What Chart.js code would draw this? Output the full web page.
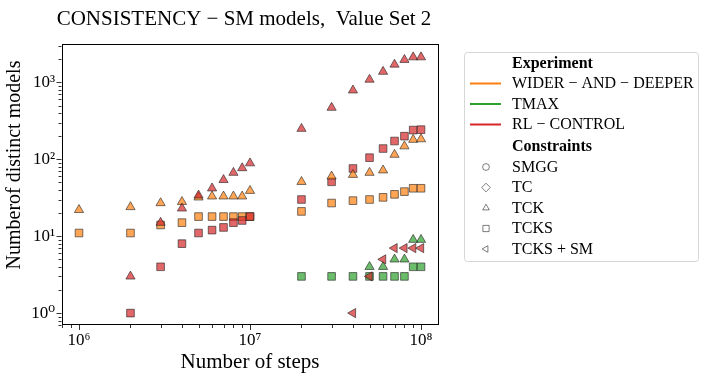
<!DOCTYPE html>
<html>
<head>
<meta charset="utf-8">
<script src="https://cdn.jsdelivr.net/npm/chart.js@4"></script>
<style>
  html, body { margin: 0; padding: 0; background: #fff; }
</style>
</head>
<body>
<canvas id="chart" width="706" height="380"></canvas>
<script>
// ======= DATA =======
const steps = [1e6, 2e6, 3e6, 4e6, 5e6, 6e6, 7e6, 8e6, 9e6, 1e7,
               2e7, 3e7, 4e7, 5e7, 6e7, 7e7, 8e7, 9e7, 1e8];

const widerTCK  = [22, 24, 27, 28, 32, 33, 33, 33, 33, 39, 51, 60, 63, 67, 72, 115, 148, 180, 183];
const widerTCKS = [11, 11, 14, 15, 18, 18, 18, 18, 18, 18, 21, 27, 29, 30, 32, 35, 38, 42, 42];

const tmaxTCK  = [null, null, null, null, null, null, null, null, null, null,
                  null, null, null, 4, 4, 5, 5, 9, 9];
const tmaxTCKS = [null, null, null, null, null, null, null, null, null, null,
                  3, 3, 3, 3, 3, 3, 3, 4, 4];

const rlTCK    = [null, 3, 15, 23, 34, 42, 54, 67, 77, 89, 250, 470, 790, 1090, 1380, 1710, 1970, 2130, 2130];
const rlTCKS   = [null, 1, 4, 8, 11, 12, 13, 15, 16, 18, 30, 51, 76, 105, 138, 173, 200, 240, 243];
const rlTCKSSM = [null, null, null, null, null, null, null, null, null, null,
                  null, null, 1, 3, 5, 7, 7, 7, 7];

const experiments = ['WIDER \u2212 AND \u2212 DEEPER', 'TMAX', 'RL \u2212 CONTROL'];
const constraints = ['SMGG', 'TC', 'TCK', 'TCKS', 'TCKS + SM'];

// ======= STYLE =======
const FONT = "'Liberation Serif', 'DejaVu Serif', serif";
const C_ORANGE = '#ff7f0e', C_GREEN = '#2ca02c', C_RED = '#d62728';
const FILL = { orange: 'rgba(255,127,14,0.7)', green: 'rgba(44,160,44,0.7)', red: 'rgba(214,39,40,0.7)' };
const EDGE = 'rgba(30,30,30,0.75)';

function pts(values) {
  const out = [];
  values.forEach((v, i) => { if (v !== null) out.push({ x: steps[i], y: v }); });
  return out;
}

function series(values, fill, style, order, rotation) {
  return {
    data: pts(values),
    pointStyle: style,
    pointRotation: rotation || 0,
    pointRadius: style === 'rect' ? 5.4 : 5.3,
    pointBackgroundColor: fill,
    pointBorderColor: EDGE,
    pointBorderWidth: 0.8,
    showLine: false,
    order: order
  };
}

const SUP = '⁰¹²³⁴⁵⁶⁷⁸⁹';
function isDecade(v) { const l = Math.log10(v); return Math.abs(l - Math.round(l)) < 1e-6; }
function isNice(v) {
  const e = Math.floor(Math.log10(v) + 1e-9);
  const s = v / Math.pow(10, e);
  return Math.abs(s - Math.round(s)) < 1e-6;
}
function logLabel(v) {
  if (!isDecade(v)) return '';
  const n = Math.round(Math.log10(v));
  return '10' + String(n).split('').map(d => SUP[+d]).join('');
}

// ======= FRAME, MINOR/MAJOR TICKS, TITLES, LEGEND =======
const decorations = {
  id: 'decorations',
  afterDraw(chart) {
    const { ctx, chartArea: a, scales } = chart;
    ctx.save();
    ctx.strokeStyle = '#000';
    ctx.lineWidth = 1;
    ctx.strokeRect(Math.round(a.left) + 0.5, Math.round(a.top) + 0.5,
                   Math.round(a.right - a.left) - 1, Math.round(a.bottom - a.top) - 1);

    ctx.lineWidth = 0.8;
    scales.x.ticks.forEach(t => {
      const px = Math.round(scales.x.getPixelForValue(t.value)) + 0.5;
      const len = isDecade(t.value) ? 5 : 3;
      ctx.beginPath(); ctx.moveTo(px, a.bottom); ctx.lineTo(px, a.bottom + len); ctx.stroke();
    });
    scales.y.ticks.forEach(t => {
      const py = Math.round(scales.y.getPixelForValue(t.value)) + 0.5;
      const len = isDecade(t.value) ? 5 : 3;
      ctx.beginPath(); ctx.moveTo(a.left, py); ctx.lineTo(a.left - len, py); ctx.stroke();
    });

    ctx.fillStyle = '#000';
    ctx.textBaseline = 'alphabetic';
    ctx.textAlign = 'center';
    ctx.font = '21px ' + FONT;
    ctx.fillText('CONSISTENCY \u2212 SM models,  Value Set 2', 244, 25);

    ctx.font = '21px ' + FONT;
    ctx.fillText('Number of steps', 250, 368);

    ctx.save();
    ctx.translate(20, 165);
    ctx.rotate(-Math.PI / 2);
    ctx.font = '20px ' + FONT;
    ctx.fillText('Numberof distinct models', 0, 0);
    ctx.restore();

    // legend box
    ctx.beginPath();
    ctx.roundRect(464.5, 52.5, 234, 209, 3);
    ctx.fillStyle = 'rgba(255,255,255,0.8)';
    ctx.fill();
    ctx.strokeStyle = '#d6d6d6';
    ctx.lineWidth = 1;
    ctx.stroke();

    ctx.fillStyle = '#000';
    ctx.textAlign = 'left';
    ctx.textBaseline = 'middle';
    ctx.font = 'bold 16px ' + FONT;
    ctx.fillText('Experiment', 512, 64);
    ctx.fillText('Constraints', 512, 147);

    ctx.font = '16px ' + FONT;
    const lineColors = [C_ORANGE, C_GREEN, C_RED];
    const lineY = [83.5, 104, 124.5];
    experiments.forEach((name, i) => {
      ctx.strokeStyle = lineColors[i];
      ctx.lineWidth = 2;
      ctx.beginPath(); ctx.moveTo(470, lineY[i]); ctx.lineTo(501, lineY[i]); ctx.stroke();
      ctx.fillStyle = '#000';
      ctx.fillText(name, 512, lineY[i] + 0.5);
    });

    // hollow marker glyphs for the constraint entries
    const styles = [['circle', 0, 3.4], ['rectRot', 0, 4.3], ['triangle', 0, 3.8], ['rect', 0, 4.4], ['triangle', -90, 3.8]];
    const markY = [167, 187.5, 208, 228.5, 249];
    constraints.forEach((name, i) => {
      ctx.fillStyle = 'rgba(0,0,0,0)';
      ctx.strokeStyle = 'rgba(50,50,50,0.8)';
      ctx.lineWidth = 0.8;
      Chart.helpers.drawPoint(ctx, {
        pointStyle: styles[i][0], rotation: styles[i][1], radius: styles[i][2], borderWidth: 0.8
      }, 486, markY[i]);
      ctx.fillStyle = '#000';
      ctx.fillText(name, 512, markY[i] + 0.5);
    });
    ctx.restore();
  }
};

const xTicks = {
  autoSkip: false, maxRotation: 0, padding: 5, color: '#000',
  font: { family: FONT, size: 17 },
  callback: v => logLabel(v)
};
const yTicks = {
  autoSkip: false, padding: 6.5, color: '#000',
  font: { family: FONT, size: 17 },
  callback: v => logLabel(v)
};

new Chart(document.getElementById('chart').getContext('2d'), {
  type: 'scatter',
  data: {
    datasets: [
      series(widerTCKS, FILL.orange, 'rect', 7),
      series(tmaxTCKS, FILL.green, 'rect', 6),
      series(rlTCKS, FILL.red, 'rect', 5),
      series(widerTCK, FILL.orange, 'triangle', 4),
      series(tmaxTCK, FILL.green, 'triangle', 3),
      series(rlTCK, FILL.red, 'triangle', 2),
      series(rlTCKSSM, FILL.red, 'triangle', 1, -90)
    ]
  },
  options: {
    responsive: false,
    animation: false,
    layout: { padding: { left: 0, right: 268, top: 44, bottom: 0 } },
    plugins: { legend: { display: false }, tooltip: { enabled: false }, title: { display: false } },
    scales: {
      x: {
        type: 'logarithmic', min: 7.9e5, max: 1.257e8,
        grid: { display: false, drawTicks: false },
        border: { display: false },
        ticks: xTicks,
        afterBuildTicks: s => { s.ticks = s.ticks.filter(t => isNice(t.value)); },
        afterFit: s => { s.height = 55; }
      },
      y: {
        type: 'logarithmic', min: 0.71, max: 3160,
        grid: { display: false, drawTicks: false },
        border: { display: false },
        ticks: yTicks,
        afterBuildTicks: s => { s.ticks = s.ticks.filter(t => isNice(t.value)); },
        afterFit: s => { s.width = 61.5; }
      }
    }
  },
  plugins: [decorations]
});
</script>
</body>
</html>
